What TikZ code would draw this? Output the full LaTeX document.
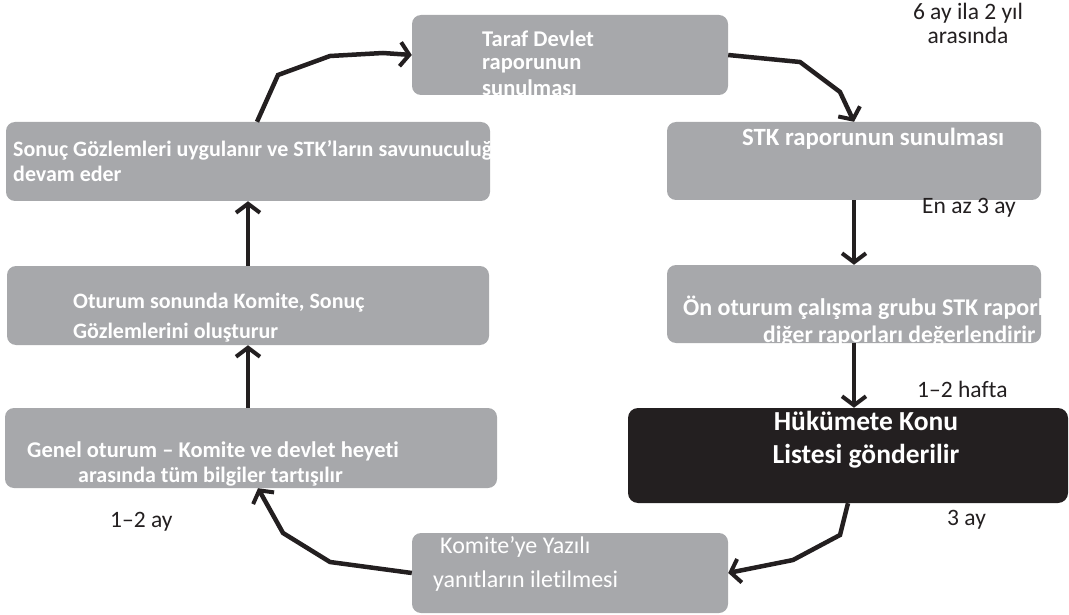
\documentclass[tikz,border=0pt]{standalone}
\usepackage{fontspec}
\setmainfont{Carlito}[Ligatures=NoCommon]
\usetikzlibrary{arrows.meta}
\definecolor{boxgray}{HTML}{A7A8AB}
\definecolor{ink}{HTML}{231F20}
\newcommand\bfs[1]{\bfseries\fontsize{#1}{#1}\selectfont}
\newcommand\rgs[1]{\fontsize{#1}{#1}\selectfont}
\begin{document}
\begin{tikzpicture}[x=1pt,y=-1pt,
  box/.style={fill=boxgray, rounded corners=9pt, inner sep=0pt},
  darkbox/.style={fill=ink, rounded corners=10pt, inner sep=0pt},
  boxtext/.style={text=white, inner sep=0pt, anchor=base west},
  note/.style={text=ink, font=\rgs{23.5}, inner sep=0pt, anchor=base west},
  conn/.style={draw=ink, line width=4.5pt, -{Straight Barb[length=9pt,width=24pt,line width=4pt]}}]
\useasboundingbox (0,0) rectangle (1069,615);

% process boxes
\node[box, minimum width=316pt, minimum height=80pt] (b1) at (570,55) {};
\node[box, minimum width=374pt, minimum height=78pt] (b2) at (854,161) {};
\node[box, minimum width=374pt, minimum height=78pt] (b3) at (854,304) {};
\node[darkbox, minimum width=440pt, minimum height=95pt] (b4) at (848,455.5) {};
\node[box, minimum width=316pt, minimum height=80pt] (b5) at (570,573) {};
\node[box, minimum width=492pt, minimum height=80pt] (b6) at (251,448) {};
\node[box, minimum width=482pt, minimum height=79pt] (b7) at (248,305.5) {};
\node[box, minimum width=484pt, minimum height=79pt] (b8) at (248,161.5) {};

% box texts, cut off at the box edges
\begin{scope}
  \clip (b1.south west) rectangle (b1.north east);
  \node[boxtext, font=\bfs{22.5}] (t1a) at (482,47) {Taraf Devlet};
  \node[boxtext, font=\bfs{22.5}] (t1b) at (482,70) {raporunun};
  \node[boxtext, font=\bfs{22.5}] (t1c) at (482,96) {sunulması};
\end{scope}
\begin{scope}
  \clip (b2.south west) rectangle (b2.north east);
  \node[boxtext, font=\bfs{24.8}] (t2) at (742,146) {STK raporunun sunulması};
\end{scope}
\begin{scope}
  \clip (b3.south west) rectangle (b3.north east);
  \node[boxtext, font=\bfs{24}] (t3a) at (683,315) {Ön oturum çalışma grubu STK raporlarını ve};
  \node[boxtext, font=\bfs{23.6}] (t3b) at (763,342) {diğer raporları değerlendirir};
\end{scope}
\node[boxtext, font=\bfs{27.5}, anchor=base] (t4a) at (866,430) {Hükümete Konu};
\node[boxtext, font=\bfs{27.5}, anchor=base] (t4b) at (866,463) {Listesi gönderilir};
\begin{scope}
  \clip (b5.south west) rectangle (b5.north east);
  \node[boxtext, font=\rgs{24}] (t5a) at (440,553) {Komite’ye Yazılı};
  \node[boxtext, font=\rgs{24}] (t5b) at (433,587) {yanıtların iletilmesi};
\end{scope}
\begin{scope}
  \clip (b6.south west) rectangle (b6.north east);
  \node[boxtext, font=\bfs{22.5}] (t6a) at (27,457) {Genel oturum – Komite ve devlet heyeti};
  \node[boxtext, font=\bfs{22}] (t6b) at (78,482) {arasında tüm bilgiler tartışılır};
\end{scope}
\begin{scope}
  \clip (b7.south west) rectangle (b7.north east);
  \node[boxtext, font=\bfs{22}] (t7a) at (73,308) {Oturum sonunda Komite, Sonuç};
  \node[boxtext, font=\bfs{22}] (t7b) at (73,338) {Gözlemlerini oluşturur};
\end{scope}
\begin{scope}
  \clip (b8.south west) rectangle (b8.north east);
  \node[boxtext, font=\bfs{22}] (t8a) at (13,157) {Sonuç Gözlemleri uygulanır ve STK’ların savunuculuğu};
  \node[boxtext, font=\bfs{22}] (t8b) at (13,182) {devam eder};
\end{scope}

% time notes
\node[note, anchor=base] (n1a) at (968,20) {6 ay ila 2 yıl};
\node[note, anchor=base] (n1b) at (968,44) {arasında};
\node[note] (n2) at (922,213) {En az 3 ay};
\node[note] (n3) at (917,397) {1–2 hafta};
\node[note] (n4) at (947,525) {3 ay};
\node[note] (n5) at (110,527) {1–2 ay};

% cycle connectors
\draw[conn] ([xshift=9pt]b8.north) -- (278,75) -- (330,56) -- (383,53) -- (b1.west);
\draw[conn] (b1.east) -- (800,62) -- (840,92) -- (b2.north);
\draw[conn] (b2.south) -- (b3.north);
\draw[conn] (b3.south) -- (b3.south |- b4.north);
\draw[conn] (b4.south) -- (840,535) -- (793,560) -- (b5.east);
\draw[conn] (b5.west) -- (330,562) -- (283,533) -- ([xshift=7pt]b6.south);
\draw[conn] (b6.north -| b7.south) -- (b7.south);
\draw[conn] (b7.north) -- (b8.south);
\end{tikzpicture}
\end{document}
